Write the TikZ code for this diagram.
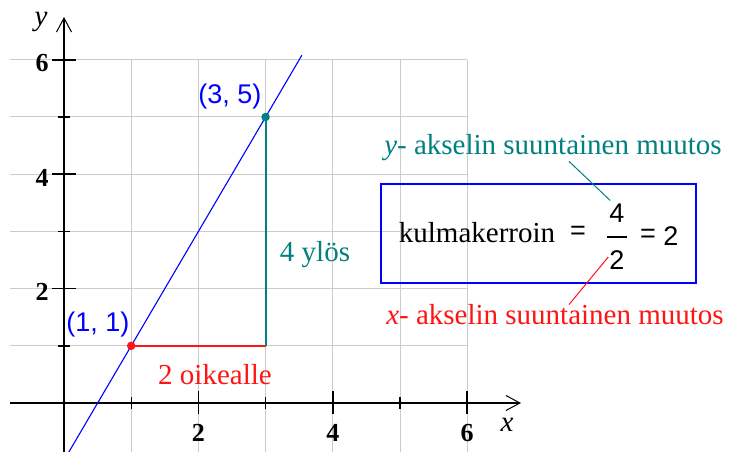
\documentclass[tikz,border=0pt]{standalone}
\usepackage{fontspec}
\setmainfont{Liberation Serif}
\newfontfamily\sansf{Liberation Sans}
\usetikzlibrary{arrows.meta}
\definecolor{gridgray}{RGB}{204,204,204}
\definecolor{tealc}{RGB}{0,128,128}
\definecolor{redc}{RGB}{255,20,20}
\definecolor{bluec}{RGB}{0,0,255}
\begin{document}
\begin{tikzpicture}[x=1pt,y=-1pt,
  gridline/.style={draw=gridgray,line width=1pt},
  axisline/.style={draw=black,line width=1.4pt,-{Straight Barb[length=14pt,width=15pt,line width=1pt]}},
  majortick/.style={draw=black,line width=1.6pt},
  minortick/.style={draw=black,line width=1.4pt},
  ticklab/.style={inner sep=0pt,font=\fontsize{26}{28}\selectfont\bfseries},
  serlab/.style={inner sep=0pt,font=\fontsize{29}{32}\selectfont},
  sanlab/.style={inner sep=0pt,font=\sansf\fontsize{27}{30}\selectfont},
  redleg/.style={draw=redc,line width=1.6pt},
  tealleg/.style={draw=tealc,line width=2pt},
  dot/.style={circle,inner sep=0pt,minimum size=8.5pt}
]
\useasboundingbox (0,0) rectangle (729,452);
\fill[white] (0,0) rectangle (729,452);
% grid
\foreach \i in {1,...,6}
  \draw[gridline] ({64+67.2*\i},60) -- ({64+67.2*\i},452);
\foreach \j in {1,...,6}
  \draw[gridline] (10,{403-57.2*\j}) -- ({64+67.2*6},{403-57.2*\j});
% axes
\coordinate (xs) at (10,403);
\coordinate (xe) at (521,403);
\coordinate (ys) at (64,452);
\coordinate (ye) at (64,17);
\draw[axisline] (xs) -- (xe);
\draw[axisline] (ys) -- (ye);
% ticks
\foreach \i in {2,4,6} {
  \draw[majortick] ({64+67.2*\i},391) -- ({64+67.2*\i},414);
  \draw[majortick] (52,{403-57.2*\i}) -- (76,{403-57.2*\i});
}
\foreach \i in {1,3,5} {
  \draw[minortick] ({64+67.2*\i},397) -- ({64+67.2*\i},409);
  \draw[minortick] (58,{403-57.2*\i}) -- (70,{403-57.2*\i});
}
% tick labels
\node[ticklab] (x2) at (198.4,433) {2};
\node[ticklab] (x4) at (332.8,433) {4};
\node[ticklab] (x6) at (467.2,433) {6};
\node[ticklab] (y2) at (42,292) {2};
\node[ticklab] (y4) at (42,178) {4};
\node[ticklab] (y6) at (42,63) {6};
\node[serlab] (xlab) at (507,425) {\itshape x};
\node[serlab] (ylab) at (41,22) {\itshape y};
% line y = 2x - 1
\coordinate (ls) at (67.4,454.5);
\coordinate (le) at (301.9,55.2);
\draw[bluec,line width=1.1pt] (ls) -- (le);
% points and legs
\coordinate (P1) at (131.2,345.8);
\coordinate (P3) at (265.6,117);
\coordinate (Q) at (265.6,345.8);
\draw[redleg] (P1) -- (Q);
\draw[tealleg] (P3) -- (Q);
\node[dot,fill=redc] (d1) at (P1) {};
\node[dot,fill=tealc] (d3) at (P3) {};
\node[sanlab,text=bluec] (l11) at (98,325) {(1, 1)};
\node[sanlab,text=bluec] (l35) at (230,97) {(3, 5)};
\node[serlab,text=tealc] (ylos) at (315,255) {4 ylös};
\node[serlab,text=redc] (oik) at (215,375) {2 oikealle};
% slope box
\node[draw=bluec,line width=1.4pt,minimum width=315pt,minimum height=99pt,inner sep=0pt] (box) at (538.5,233.5) {};
\node[serlab] (km) at (477,233) {kulmakerroin};
\node[sanlab] (eq1) at (578,233) {=};
\node[sanlab] (n4) at (617,213) {4};
\node[sanlab] (n2) at (617,260) {2};
\coordinate (fb1) at (607,237);
\coordinate (fb2) at (627,237);
\draw[black,line width=1.1pt] (fb1) -- (fb2);
\node[sanlab] (eq2) at (648,236) {=};
\node[sanlab] (res) at (671,236) {2};
% annotations
\node[serlab,text=tealc] (ych) at (553,148) {{\itshape y}- akselin suuntainen muutos};
\node[serlab,text=redc] (xch) at (555,315) {{\itshape x}- akselin suuntainen muutos};
\draw[tealc,line width=1pt] ([xshift=16pt]ych.south) -- ([xshift=1pt,yshift=3pt]n4.north west);
\draw[redc,line width=1pt] ([xshift=-1pt,yshift=3pt]n2.west) -- ([xshift=14pt]xch.north);
\end{tikzpicture}
\end{document}
